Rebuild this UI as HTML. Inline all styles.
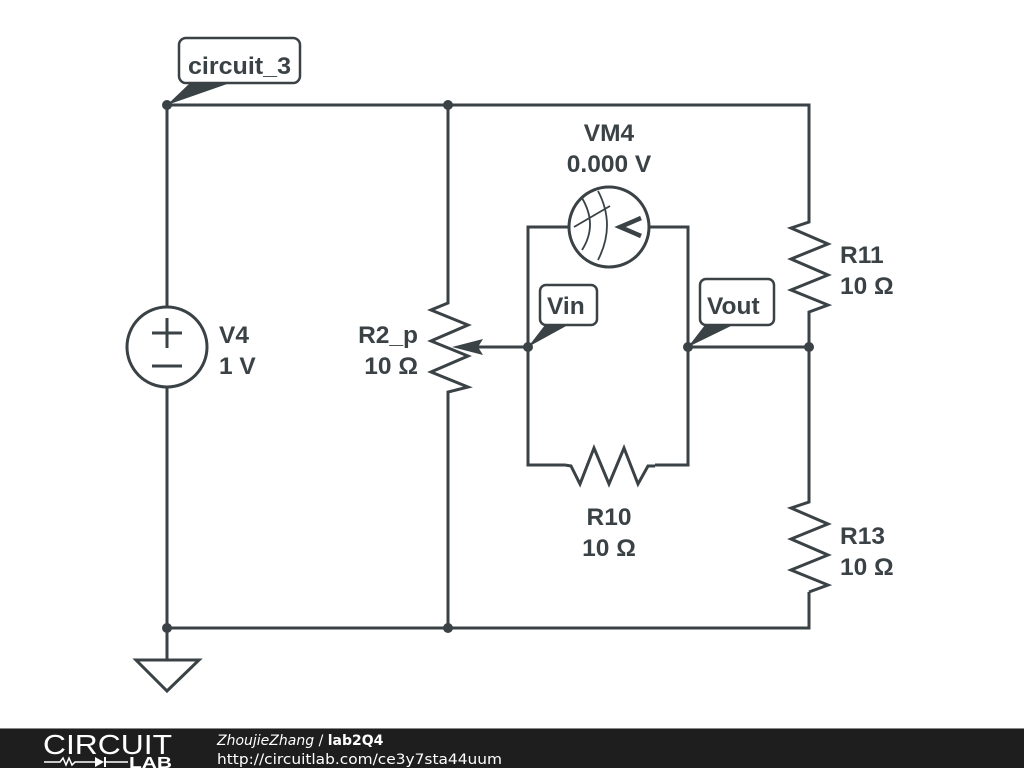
<!DOCTYPE html>
<html><head><meta charset="utf-8"><style>
html,body{margin:0;padding:0;background:#fff;}
svg{display:block;}
text{font-family:"Liberation Sans",sans-serif;font-weight:bold;fill:#3a4246;}
</style></head><body>
<svg width="1024" height="768" viewBox="0 0 1024 768">
<g stroke="#3a4246" stroke-width="3" fill="none" stroke-linejoin="miter">
<polyline points="167,105 809,105 809,221"/>
<line x1="167" y1="105" x2="167" y2="307"/>
<line x1="167" y1="387" x2="167" y2="660"/>
<circle cx="167" cy="347" r="40"/>
<line x1="152" y1="333" x2="182" y2="333"/><line x1="167" y1="318" x2="167" y2="348"/>
<line x1="152" y1="366" x2="182" y2="366"/>
<polyline points="167,628 809,628 809,592"/>
<polygon points="136,660 199,660 167,691"/>
<line x1="448" y1="105" x2="448" y2="302"/>
<polyline points="448,302 448,303 431,310 468,325 431,341 468,356 431,372 468,387 448,392 448,394"/>
<line x1="448" y1="392" x2="448" y2="628"/>
<line x1="528" y1="347" x2="470" y2="347"/>
<polyline points="569,227 528,227 528,465 565,465"/>
<polyline points="649,227 688,227 688,465 655,465"/>
<circle cx="609" cy="227" r="40"/>
<polyline points="565,465 571,466 580,484 594,448 609,484 624,448 638,484 648,466 655,466"/>
<line x1="688" y1="347" x2="809" y2="347"/>
<polyline points="809,221 809,222 791,228 828,244 791,259 828,275 791,290 828,305 809,312 809,313"/>
<line x1="809" y1="312" x2="809" y2="495"/>
<polyline points="809,495 809,502 791,508 828,524 791,539 828,555 791,570 828,585 809,592"/>
</g>
<g stroke="#3a4246" stroke-width="1.8" fill="none">
<path d="M582,198 Q598,225 582,250"/>
<path d="M598,191 Q616,225 598,260"/>
<line x1="574" y1="227" x2="610" y2="206"/>
</g>
<polyline points="641,218 620,227 641,236" stroke="#3a4246" stroke-width="4.5" fill="none"/>
<polygon points="452,347 483,339 478,347 483,355" fill="#3a4246"/>
<g fill="#3a4246">
<circle cx="167" cy="105" r="5"/><circle cx="448" cy="105" r="5"/>
<circle cx="528" cy="347" r="5"/><circle cx="688" cy="347" r="5"/><circle cx="809" cy="347" r="5"/>
<circle cx="167" cy="628" r="5"/><circle cx="448" cy="628" r="5"/>
<polygon points="167,105 190,83 230,83"/>
<polygon points="528,347 545,325 568,325"/>
<polygon points="688,347 705,325 733,325"/>
</g>
<g stroke="#3a4246" stroke-width="2.5" fill="#fff">
<rect x="179" y="38" width="121" height="45" rx="7"/>
<rect x="540" y="285" width="57" height="40" rx="6"/>
<rect x="700" y="279" width="74" height="46" rx="6"/>
</g>
<g font-size="24.5">
<text x="188" y="74" textLength="103" lengthAdjust="spacingAndGlyphs">circuit_3</text>
<text x="547" y="314">Vin</text>
<text x="707" y="314">Vout</text>
<text x="219" y="343">V4</text>
<text x="219" y="374">1 V</text>
<text x="418" y="343" text-anchor="end">R2_p</text>
<text x="418" y="374" text-anchor="end">10 Ω</text>
<text x="609" y="141" text-anchor="middle">VM4</text>
<text x="609" y="172" text-anchor="middle">0.000 V</text>
<text x="840" y="263">R11</text>
<text x="840" y="294">10 Ω</text>
<text x="609" y="525" text-anchor="middle">R10</text>
<text x="609" y="556" text-anchor="middle">10 Ω</text>
<text x="840" y="544">R13</text>
<text x="840" y="575">10 Ω</text>
</g>
<rect x="0" y="729" width="1024" height="39" fill="#1e1e1e"/>
<rect x="0" y="728" width="1024" height="1" fill="#888"/>
<text x="43" y="754" textLength="129" lengthAdjust="spacingAndGlyphs" style="font-weight:normal;fill:#fff;font-size:28px;">CIRCUIT</text>
<polyline points="44,762 60,762 63,758 66,765 69,758 72,765 75,762 95,762" stroke="#fff" stroke-width="1.5" fill="none"/>
<polygon points="95,757 95,767 104,762" fill="#fff"/>
<line x1="105" y1="757" x2="105" y2="767" stroke="#fff" stroke-width="2"/>
<line x1="105" y1="762" x2="128" y2="762" stroke="#fff" stroke-width="1.5"/>
<text x="129" y="768" textLength="43" lengthAdjust="spacingAndGlyphs" style="fill:#fff;font-size:16px;">LAB</text>
<text x="217" y="745" style="font-family:'DejaVu Sans',sans-serif;fill:#fff;font-size:14px;font-weight:normal;font-style:italic;">ZhoujieZhang <tspan font-style="normal">/</tspan> <tspan font-weight="bold" font-style="normal">lab2Q4</tspan></text>
<text x="217" y="764" textLength="285" lengthAdjust="spacingAndGlyphs" style="font-family:'DejaVu Sans',sans-serif;fill:#fff;font-size:14px;font-weight:normal;">http://circuitlab.com/ce3y7sta44uum</text>
</svg>
</body></html>
